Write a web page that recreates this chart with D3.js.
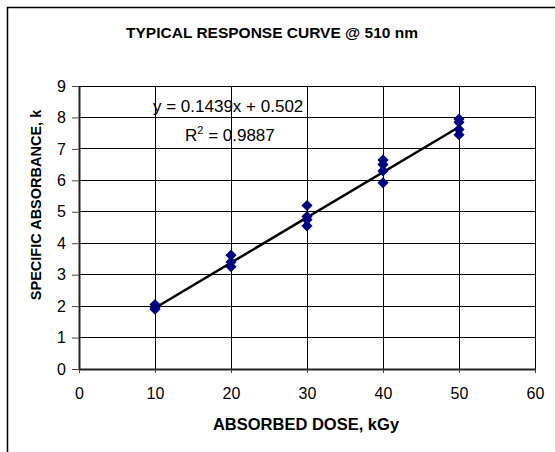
<!DOCTYPE html>
<html>
<head>
<meta charset="utf-8">
<script src="https://cdn.jsdelivr.net/npm/d3@7"></script>
<style>
  body { margin: 0; background: #fff; }
  text { font-family: "Liberation Sans", Arial, sans-serif; }
</style>
</head>
<body>
<svg id="chart" width="555" height="452"></svg>
<script>
// data
const doses = [10, 10, 10, 20, 20, 20, 30, 30, 30, 30, 40, 40, 40, 40, 50, 50, 50, 50];
const absorb = [2.05, 1.95, 1.9, 3.62, 3.4, 3.25, 5.2, 4.85, 4.75, 4.55, 6.65, 6.5, 6.3, 5.92, 7.95, 7.85, 7.62, 7.45];
const xTicks = [0, 10, 20, 30, 40, 50, 60];
const yTicks = [0, 1, 2, 3, 4, 5, 6, 7, 8, 9];
const slope = 0.1439, intercept = 0.502;
const fitRange = [10, 50];

const svg = d3.select('#chart');
const margin = { top: 86, right: 20, bottom: 83, left: 79 };

// outer frame (runs off the right and bottom edges)
svg.append('rect')
  .attr('x', 7.5).attr('y', 7.5)
  .attr('width', 560).attr('height', 460)
  .attr('fill', 'none').attr('stroke', '#000').attr('stroke-width', 1.5);

const x = d3.scaleLinear().domain([0, 60]).range([margin.left, 535]);
const y = d3.scaleLinear().domain([0, 9]).range([369, margin.top]);

// grid
const grid = svg.append('g').attr('shape-rendering', 'crispEdges');
grid.selectAll('.hg').data(yTicks.slice(1)).join('line')
  .attr('x1', x(0)).attr('x2', x(60))
  .attr('y1', d => y(d)).attr('y2', d => y(d))
  .attr('stroke', '#000').attr('stroke-width', 1);
grid.selectAll('.vg').data(xTicks.slice(1)).join('line')
  .attr('x1', d => x(d)).attr('x2', d => x(d))
  .attr('y1', y(0)).attr('y2', y(9))
  .attr('stroke', '#000').attr('stroke-width', 1);

// axes
const xAxis = svg.append('g')
  .attr('transform', `translate(0,${y(0)})`)
  .call(d3.axisBottom(x).tickValues(xTicks).tickSize(4).tickPadding(15).tickSizeOuter(0));
const yAxis = svg.append('g')
  .attr('transform', `translate(${x(0)},0)`)
  .call(d3.axisLeft(y).tickValues(yTicks).tickSize(7).tickPadding(6).tickSizeOuter(0));

[xAxis, yAxis].forEach(g => {
  g.select('.domain').attr('stroke', '#222').attr('stroke-width', 2);
  g.selectAll('.tick line').attr('stroke', '#444');
  g.selectAll('.tick text')
    .attr('font-family', '"Liberation Sans", Arial, sans-serif')
    .attr('font-size', 16).attr('fill', '#000');
});

// trend line
svg.append('line')
  .attr('x1', x(fitRange[0])).attr('y1', y(slope * fitRange[0] + intercept))
  .attr('x2', x(fitRange[1])).attr('y2', y(slope * fitRange[1] + intercept))
  .attr('stroke', '#000').attr('stroke-width', 2.5);

// points (diamonds = squares turned 45 degrees)
const marker = d3.symbol().type(d3.symbolSquare).size(62);
svg.selectAll('.pt').data(doses).join('path')
  .attr('d', marker)
  .attr('transform', (d, i) => `translate(${x(d)},${y(absorb[i])}) rotate(45)`)
  .attr('fill', '#000080');

// equation
svg.append('text')
  .attr('x', 153).attr('y', 112)
  .attr('font-size', 17)
  .text(`y = ${slope}x + ${intercept}`);
const r2 = svg.append('text').attr('x', 185).attr('y', 141).attr('font-size', 17);
r2.append('tspan').text('R');
r2.append('tspan').attr('dy', -7).attr('font-size', 11).text('2');
r2.append('tspan').attr('dy', 7).text(' = 0.9887');

// titles
svg.append('text')
  .attr('x', 272).attr('y', 38)
  .attr('text-anchor', 'middle')
  .attr('font-size', 15.5).attr('font-weight', 'bold')
  .text('TYPICAL RESPONSE CURVE @ 510 nm');

svg.append('text')
  .attr('x', 306).attr('y', 430)
  .attr('text-anchor', 'middle')
  .attr('font-size', 16.5).attr('font-weight', 'bold')
  .text('ABSORBED DOSE, kGy');

svg.append('text')
  .attr('transform', 'translate(41,205) rotate(-90)')
  .attr('text-anchor', 'middle')
  .attr('font-size', 14.5).attr('font-weight', 'bold')
  .text('SPECIFIC ABSORBANCE, k');
</script>
</body>
</html>
